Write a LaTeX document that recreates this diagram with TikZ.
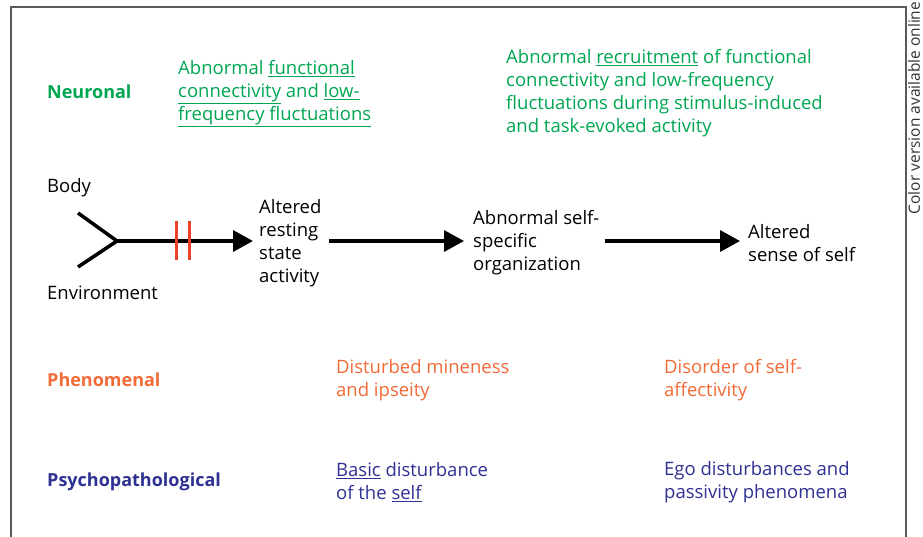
\documentclass[tikz,border=0pt]{standalone}
\usepackage{fontspec}
\setmainfont{Open Sans}
\usetikzlibrary{arrows.meta}

\definecolor{neurogreen}{RGB}{0,166,81}
\definecolor{phenorange}{RGB}{242,106,54}
\definecolor{psychblue}{RGB}{46,49,146}
\definecolor{barred}{RGB}{235,65,40}
\definecolor{framegray}{RGB}{90,90,90}

\tikzset{
  lbl/.style={anchor=west, align=left, inner sep=0pt, font=\fontsize{18.5}{23}\selectfont},
  level/.style={lbl, font=\fontsize{18}{23}\selectfont\bfseries},
  flow/.style={line width=3.5pt, -{Triangle[length=20pt,width=21pt]}},
}

\begin{document}
\begin{tikzpicture}[x=1pt,y=-1pt]
\useasboundingbox (0,0) rectangle (923,537);
\draw[framegray, line width=1.3pt] (11,537) -- (11,7) -- (906,7) -- (906,537);
\node[rotate=90, inner sep=0pt, text=black!80, font=\fontsize{15.5}{17}\selectfont] (note) at (914,108) {Color version available online};

% levels
\node[level, text=neurogreen] (neuro) at (47,92) {Neuronal};
\node[level, text=phenorange] (pheno) at (47,380) {Phenomenal};
\node[level, text=psychblue] (psych) at (47,482) {Psychopathological};

% neuronal
\node[lbl, text=neurogreen] (neurorest) at (178,94) {Abnormal \underline{functional}\\\underline{connectivity} and \underline{low-}\\\underline{frequency fluctuations}};
\node[lbl, text=neurogreen] (neurotask) at (506,93.5) {Abnormal \underline{recruitment} of functional\\connectivity and low-frequency\\fluctuations during stimulus-induced\\and task-evoked activity};

% chain
\node[lbl] (body) at (47,188) {Body};
\node[lbl] (env) at (47,292.5) {Environment};
\node[lbl] (rest) at (259,243) {Altered\\resting\\state\\activity};
\node[lbl] (selforg) at (473,243) {Abnormal self-\\specific\\organization};
\node[lbl] (sense) at (748,243) {Altered\\sense of self};

\coordinate (bodyend) at (78,213);
\coordinate (envend) at (78,267);
\coordinate (fork) at (117,241);
\draw[line width=3.5pt] (bodyend) -- (fork) -- (envend);
\draw[flow, shorten >=6pt] (fork) -- (fork -| rest.west);
\draw[barred, line width=3pt] (176,221) -- (176,260) (189,221) -- (189,260);
\draw[flow, shorten <=7pt, shorten >=9pt] (fork -| rest.east) -- (fork -| selforg.west);
\draw[flow, shorten <=5pt, shorten >=8pt] (fork -| selforg.east) -- (fork -| sense.west);

% phenomenal
\node[lbl, text=phenorange] (mine) at (336,380.5) {Disturbed mineness\\and ipseity};
\node[lbl, text=phenorange] (affect) at (664,380.5) {Disorder of self-\\affectivity};

% psychopathological
\node[lbl, text=psychblue] (basic) at (336,482.5) {\underline{Basic} disturbance\\of the \underline{self}};
\node[lbl, text=psychblue] (ego) at (664,482.5) {Ego disturbances and\\passivity phenomena};
\end{tikzpicture}
\end{document}
